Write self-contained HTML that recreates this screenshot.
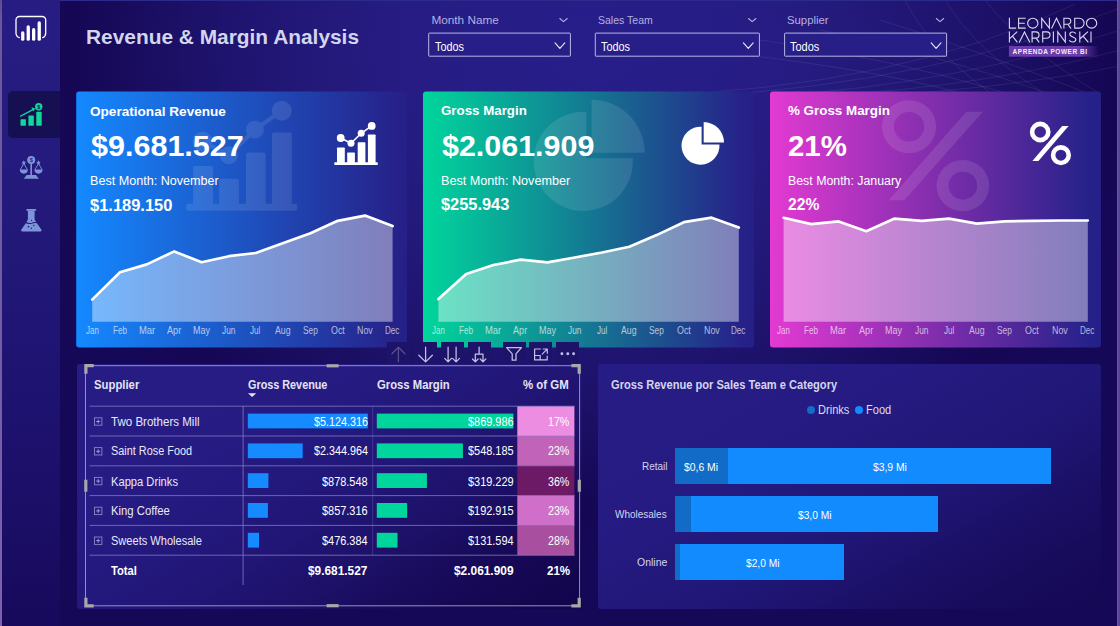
<!DOCTYPE html>
<html><head><meta charset="utf-8">
<style>
*{box-sizing:border-box;margin:0;padding:0}
html,body{width:1120px;height:626px;overflow:hidden}
body{font-family:"Liberation Sans",sans-serif;color:#fff;position:relative;background:#170a5a;}
.abs{position:absolute}
.t{position:absolute;white-space:nowrap;line-height:1;transform-origin:0 0}
#bg{left:0;top:0;width:1120px;height:626px;background:radial-gradient(ellipse 570px 500px at 590px 50px,#281e8a 0%,#261c84 30%,#241a7c 45%,#1f1470 61%,#1b0f64 75%,#150754 91%,#150856 100%)}
#edge{left:0;top:0;width:2px;height:626px;background:linear-gradient(180deg,#5c4a96 0,#6a5898 3%,#7a62b0 100%)}
#edger{left:1117px;top:0;width:3px;height:626px;background:linear-gradient(90deg,#6c5c9e,#553a92)}
#edget{left:0;top:0;width:1120px;height:1px;background:#2c2a8a}
#side{left:2px;top:0;width:58px;height:626px;background:linear-gradient(180deg,#261c82 0%,#261c80 14%,#251b7e 25%,#221878 40%,#1e1270 65%,#170a5c 100%)}
#active{left:8px;top:91px;width:52px;height:47px;background:#160f52;border-radius:5px 0 0 5px}
#title{left:86px;top:25px;font-size:21px;font-weight:bold;color:#d2d5ee;white-space:nowrap}
.ddl{top:13px;font-size:12px;color:#b4b0e2;white-space:nowrap}
.ddb{top:33px;height:24px;border:1px solid #b8b4e4;background:#271e8a;font-size:12px;color:#fff;padding:6px 0 0 5px;border-radius:1px}
.card{top:91px;width:331px;height:257px;border-radius:3px;overflow:hidden}
.ct{left:13px;top:12px;font-size:13px;font-weight:bold;white-space:nowrap}
.cv{left:13px;top:37px;font-size:29px;font-weight:bold;white-space:nowrap}
.cb{left:13px;top:82px;font-size:12.5px;white-space:nowrap}
.cs{left:13px;top:105px;font-size:15px;font-weight:bold;white-space:nowrap}
.mon{top:234px;font-size:9.5px;white-space:nowrap;width:30px;text-align:center;margin-left:-15px;color:rgba(255,255,255,0.62)}
.panel{border-radius:3px}
#tp{background:linear-gradient(149deg,#261c85 0%,#261c84 20%,#251b82 30%,#23187c 44%,#211575 56%,#1c1067 69%,#190c5d 76%,#160854 85%,#14064e 93%,#13054c 100%)}
#bp{background:linear-gradient(151deg,#261c85 0%,#261c84 20%,#251b83 30%,#23197d 44%,#211778 56%,#1d126c 69%,#1a0f64 76%,#170c5c 85%,#160a58 93%,#150956 100%)}
.th{top:378px;font-size:12px;font-weight:bold;color:#e4e4f6;white-space:nowrap}
.hl{height:1px;background:#6f68b4;left:89px;width:485px}
.rt{left:111px;font-size:12.5px;color:#e8e8f8;white-space:nowrap}
.rv{font-size:12.5px;color:#fff;white-space:nowrap;text-align:right;width:100px}
.pc{left:517px;width:57px;height:29px}
.bx{left:94px;width:8px;height:8px;border:1px solid #8f8ac8}
.bx:before{content:"";position:absolute;left:1px;top:2.5px;width:4px;height:1px;background:#a9a5d8}
.bx:after{content:"";position:absolute;left:2.5px;top:1px;width:1px;height:4px;background:#a9a5d8}
.tb{top:342px;width:23px;height:22px;background:#1d146a}
.bl{font-size:11.5px;color:#d4d4f0;white-space:nowrap;text-align:right;width:70px;left:597px}
.dl{font-size:11px;color:#fff;white-space:nowrap;width:60px;text-align:center;margin-left:-30px}
</style></head><body>
<div id="bg" class="abs"></div>
<svg class="abs" style="left:560px;top:0" width="560" height="100" viewBox="560 0 560 100" fill="none" stroke="#fff" stroke-opacity="0.075" stroke-width="1">
<path d="M640,96 Q900,88 1075,4"/><path d="M700,96 Q930,84 1120,8"/><path d="M770,96 Q960,84 1120,30"/><path d="M820,96 Q990,86 1120,50"/><path d="M870,96 Q1010,88 1120,66"/>
<path d="M700,50 Q860,66 965,94"/><path d="M760,40 Q890,58 1010,94"/><path d="M820,30 Q930,52 1050,94"/><path d="M880,20 Q970,48 1090,94"/><path d="M905,0 Q930,50 992,94"/><path d="M945,0 Q975,50 1045,94"/><path d="M985,0 Q1020,45 1100,94"/>
</svg>
<div id="edget" class="abs"></div>
<div id="edge" class="abs"></div>
<div id="edger" class="abs"></div>
<div id="side" class="abs"></div>
<div id="active" class="abs"></div>

<!-- SIDEBAR ICONS -->
<svg class="abs" style="left:0;top:0" width="60" height="250" viewBox="0 0 60 250">
 <!-- power bi -->
 <path d="M19.3,37.6 C17,36.9 16,35.4 16,33 V20 a3.5,3.5 0 0 1 3.5,-3.5 H42.2 a3.5,3.5 0 0 1 3.5,3.5 V33 C45.7,35.4 44.7,36.9 42.7,37.6" fill="none" stroke="#fff" stroke-width="1.3" stroke-linecap="round"/>
 <g stroke="#fff" stroke-width="3.3" stroke-linecap="round"><path d="M22.75,32.9 V39.2"/><path d="M28.25,27 V39.2"/><path d="M33.65,29.7 V39.2"/><path d="M39.25,23 V39.2"/></g>
 <!-- active: growth -->
 <g fill="#10d898"><rect x="20.5" y="119.2" width="5.4" height="6.6" rx="0.6"/><rect x="28.4" y="115.5" width="5.4" height="10.3" rx="0.6"/><rect x="36.3" y="111.7" width="5.4" height="14.1" rx="0.6"/>
 <circle cx="38.7" cy="106.7" r="3.7"/><path d="M35.4,108.5 L31.4,107.3 L33.3,111.4 Z"/></g>
 <path d="M20.6,116.1 L33.4,109.4" stroke="#10d898" stroke-width="1.2" stroke-linecap="round"/>
 <text x="38.7" y="108.6" font-family="Liberation Sans, sans-serif" font-size="5.4" font-weight="bold" fill="#160f52" text-anchor="middle">$</text>
 <!-- scales -->
 <g fill="#7d95d8"><circle cx="31.2" cy="160.1" r="4"/><rect x="30.4" y="164" width="1.6" height="11.5"/><path d="M26.7,175.1 H35.9 L38.9,178.8 H23.8 Z"/>
 <path d="M19.8,169.6 H27.8 A4,4.1 0 0 1 19.8,169.6 Z"/><path d="M34.5,169.6 H42.5 A4,4.1 0 0 1 34.5,169.6 Z"/>
 <path d="M23.8,160.3 L24.5,161.8 L26.1,162 L24.9,163.1 L25.2,164.7 L23.8,163.9 L22.4,164.7 L22.7,163.1 L21.5,162 L23.1,161.8 Z"/>
 <path d="M38.5,160.3 L39.2,161.8 L40.8,162 L39.6,163.1 L39.9,164.7 L38.5,163.9 L37.1,164.7 L37.4,163.1 L36.2,162 L37.8,161.8 Z"/></g>
 <g fill="none" stroke="#7d95d8" stroke-width="0.9"><path d="M20.2,169.8 L23.8,163.5 L27.4,169.8"/><path d="M34.9,169.8 L38.5,163.5 L42.1,169.8"/></g>
 <text x="31.2" y="162.1" font-family="Liberation Sans, sans-serif" font-size="5.6" font-weight="bold" fill="#2a1f8c" text-anchor="middle">$</text>
 <!-- flask -->
 <g fill="#7d95d8"><rect x="26.4" y="209" width="9.8" height="1.7" rx="0.5"/><path d="M27.9,210.6 H34.6 V219.6 L36.3,222.2 C34.5,221.6 33.2,222.4 31.3,222.9 C29.4,223.3 27.9,222.8 26.4,222.1 L27.9,219.6 Z"/>
 <path d="M25.8,223.2 C27.6,224 29.3,224.3 31.4,223.8 C33.4,223.3 35,222.6 36.9,223.3 L41.3,229.6 C41.9,230.6 41.4,231.6 40.2,231.6 H22.5 C21.3,231.6 20.8,230.6 21.4,229.6 Z"/></g>
 <g fill="#2a1f8c"><circle cx="31.5" cy="220.4" r="0.7"/><circle cx="33.9" cy="225.4" r="0.75"/><circle cx="28.5" cy="226.7" r="0.85"/><circle cx="31.4" cy="228.2" r="0.8"/></g>
</svg>

<div class="t" style="left:86.20px;top:25px;font-size:20.5px;line-height:23px;color:#d2d5ee;font-weight:bold;transform:scaleX(1.0183);">Revenue &amp; Margin Analysis</div>

<!-- SLICERS -->
<svg class="abs" style="left:420px;top:28px" width="540" height="34" viewBox="420 28 540 34" fill="#271e88" stroke="#bab6e6" stroke-width="1"><rect x="428.7" y="33.1" width="141.7" height="23.1" rx="0.6"/><rect x="595.3" y="33.1" width="164.1" height="23.1" rx="0.6"/><rect x="784.6" y="33.1" width="162" height="23.1" rx="0.6"/></svg>
<div class="t" style="left:431.40px;top:13px;font-size:11.8px;line-height:14px;color:#b4b0e2;">Month Name</div><div class="t" style="left:597.60px;top:13px;font-size:11.8px;line-height:14px;color:#b4b0e2;transform:scaleX(0.8918);">Sales Team</div><div class="t" style="left:786.50px;top:13px;font-size:11.8px;line-height:14px;color:#b4b0e2;transform:scaleX(0.9607);">Supplier</div>
<div class="t" style="left:435.00px;top:40px;font-size:11.9px;line-height:14px;color:#fff;transform:scaleX(0.9102);">Todos</div><div class="t" style="left:600.60px;top:40px;font-size:11.9px;line-height:14px;color:#fff;transform:scaleX(0.9134);">Todos</div><div class="t" style="left:790.00px;top:40px;font-size:11.9px;line-height:14px;color:#fff;transform:scaleX(0.9228);">Todos</div>
<svg class="abs" style="left:0;top:0" width="1120" height="64" fill="none" stroke-linecap="round" stroke-linejoin="round">
 <g stroke="#b4b0e2" stroke-width="1.1"><path d="M559.8,18.5 L563.5,21.7 L567.2,18.5"/><path d="M748.5,18.5 L752.2,21.7 L755.9,18.5"/><path d="M936.3,18.5 L940,21.7 L943.7,18.5"/></g>
 <g stroke="#e6e4f6" stroke-width="1.2"><path d="M555,42.9 L559.9,48.3 L564.8,42.9"/><path d="M743.4,42.9 L748.3,48.3 L753.2,42.9"/><path d="M931.2,42.9 L936.1,48.3 L941,42.9"/></g>
</svg>

<!-- LOGO -->
<svg class="abs" style="left:1004px;top:12px" width="100" height="50" viewBox="0 0 100 50">
 <defs><linearGradient id="bdg" x1="0" x2="1" y1="0" y2="0"><stop offset="0" stop-color="#6d3cab"/><stop offset="0.78" stop-color="#6d3cab"/><stop offset="1" stop-color="#6d3cab" stop-opacity="0"/></linearGradient></defs>
 <g fill="none" stroke="#dcdaf0" stroke-width="1.1" stroke-linecap="butt" stroke-linejoin="miter">
  <path d="M5.4,5.8 V16.1 H12.1"/><path d="M21.7,6.3 H14.6 V16.1 H21.7 M14.6,11.2 H20.8"/><ellipse cx="28.8" cy="11.2" rx="5.15" ry="4.9"/><path d="M37.7,16.6 V6.3 L45.4,16.1 V5.8"/>
  <path d="M47.5,16.6 L52.5,6.3 L57.5,16.6"/><path d="M59.9,16.6 V6.3 H63.8 a3,3 0 0 1 0,6 H59.9 M63.9,12.3 L67,16.6"/><path d="M70.7,6.3 V16.1 H75.2 a4.9,4.9 0 0 0 0,-9.8 Z"/><ellipse cx="87.6" cy="11.2" rx="5.15" ry="4.9"/>
  <path d="M5.4,19.4 V30.5 M13.2,19.6 L5.4,26.8 M8.5,24.1 L13.4,30.4"/><path d="M15.2,30.5 L20.5,19.9 L25.9,30.5"/><path d="M28.1,30.5 V19.9 H31.9 a3.1,3.1 0 0 1 0,6.2 H28.1 M32,26.1 L35.2,30.4"/>
  <path d="M38.7,30.5 V19.9 H42.8 a3.2,3.2 0 0 1 0,6.4 H38.7"/><path d="M49.4,19.4 V30.5"/><path d="M53.8,30.5 V19.9 L61.3,30 V19.4"/>
  <path d="M71.8,21.6 C70.4,19.5 65.9,19.3 65.8,22.3 C65.7,25.3 72,24.5 71.9,27.6 C71.8,30.7 66.6,30.6 65.2,28.3"/><path d="M75.8,19.4 V30.5 M84,19.6 L75.8,27 M79.1,24.2 L84.4,30.4"/><path d="M87,19.4 V30.5"/>
 </g>
 <rect x="4.9" y="34" width="90" height="10.7" fill="url(#bdg)"/>
 <text x="8.6" y="41.8" font-family="Liberation Sans, sans-serif" font-size="6.5" font-weight="bold" fill="#f0eefa" letter-spacing="0.52">APRENDA POWER BI</text>
</svg>


<!-- CARDS -->
<svg class="abs" style="left:0;top:80px" width="1120" height="280" viewBox="0 80 1120 280">
 <defs>
  <linearGradient id="g1" x1="0" x2="1" y1="0" y2="0"><stop offset="0" stop-color="#1489ff"/><stop offset="0.96" stop-color="#26228a"/><stop offset="1" stop-color="#252086"/></linearGradient>
  <linearGradient id="g2" x1="0" x2="1" y1="0" y2="0"><stop offset="0" stop-color="#00d69c"/><stop offset="0.96" stop-color="#26228a"/><stop offset="1" stop-color="#252086"/></linearGradient>
  <linearGradient id="g3" x1="0" x2="1" y1="0" y2="0"><stop offset="0" stop-color="#e33ad2"/><stop offset="0.96" stop-color="#26228a"/><stop offset="1" stop-color="#252086"/></linearGradient>
 </defs>
 <rect x="76.2" y="91.4" width="330.8" height="256.1" rx="3" fill="url(#g1)"/>
 <rect x="423" y="91.4" width="331" height="256.1" rx="3" fill="url(#g2)"/>
 <rect x="770" y="91.4" width="331" height="256.1" rx="3" fill="url(#g3)"/>
</svg>
<svg class="abs" style="left:0;top:80px" width="1120" height="280" viewBox="0 80 1120 280">
 <g transform="translate(186.2,100.8) scale(2.555)" fill="currentColor" style="color:#fff" opacity="0.1"><rect x="0" y="40.3" width="43.5" height="2.7" rx="0.8"/>
   <rect x="2.7" y="25.5" width="7.8" height="15.5" rx="0.8"/><rect x="12.9" y="30.5" width="7.7" height="10.5" rx="0.8"/><rect x="23.4" y="20.2" width="7.7" height="20.8" rx="0.8"/><rect x="33.6" y="12.4" width="7.7" height="28.6" rx="0.8"/>
   <circle cx="6.4" cy="16" r="3.9"/><circle cx="16.7" cy="21.3" r="3.5"/><circle cx="26.9" cy="11.3" r="3.5"/><circle cx="37.4" cy="3.9" r="3.9"/>
   <path d="M6.4,16 L16.7,21.3 L26.9,11.3 L37.4,3.9" fill="none" stroke="currentColor" stroke-width="1.6"/></g>
 <g transform="translate(334.3,122)" fill="currentColor" style="color:#fff"><rect x="0" y="40.3" width="43.5" height="2.7" rx="0.8"/>
   <rect x="2.7" y="25.5" width="7.8" height="15.5" rx="0.8"/><rect x="12.9" y="30.5" width="7.7" height="10.5" rx="0.8"/><rect x="23.4" y="20.2" width="7.7" height="20.8" rx="0.8"/><rect x="33.6" y="12.4" width="7.7" height="28.6" rx="0.8"/>
   <circle cx="6.4" cy="16" r="3.9"/><circle cx="16.7" cy="21.3" r="3.5"/><circle cx="26.9" cy="11.3" r="3.5"/><circle cx="37.4" cy="3.9" r="3.9"/>
   <path d="M6.4,16 L16.7,21.3 L26.9,11.3 L37.4,3.9" fill="none" stroke="currentColor" stroke-width="1.6"/></g>
 <g transform="translate(533.7,100.8) scale(2.61)" fill="#fff" opacity="0.1"><path d="M20.1,22 L20.1,4.23 A19,19 0 1,0 37.96,22 Z"/>
   <path d="M22.2,19.9 L22.2,-0.4 A20.3,20.3 0 0,1 42.5,19.9 Z"/></g>
 <g transform="translate(681.5,122.5)" fill="#fff"><path d="M20.1,22 L20.1,4.23 A19,19 0 1,0 37.96,22 Z"/>
   <path d="M22.2,19.9 L22.2,-0.4 A20.3,20.3 0 0,1 42.5,19.9 Z"/></g>
 <g transform="translate(882,101.1) scale(2.6,2.54)" fill="currentColor" style="color:#fff" opacity="0.1"><circle cx="10.4" cy="10.1" r="8.1" fill="none" stroke="currentColor" stroke-width="4.6"/>
   <circle cx="31.1" cy="33.3" r="7.8" fill="none" stroke="currentColor" stroke-width="4.6"/>
   <path d="M32.4,4.2 L38.8,4.2 L8.6,39 L2.6,39 Z"/></g>
 <g transform="translate(1029.8,121.9)" fill="currentColor" style="color:#fff"><circle cx="10.4" cy="10.1" r="8.1" fill="none" stroke="currentColor" stroke-width="4.6"/>
   <circle cx="31.1" cy="33.3" r="7.8" fill="none" stroke="currentColor" stroke-width="4.6"/>
   <path d="M32.4,4.2 L38.8,4.2 L8.6,39 L2.6,39 Z"/></g>
 <polygon points="92.2,299.6 120.0,272.3 146.8,264.4 174.2,251.4 201.6,262.3 228.9,256.2 255.8,253.0 283.4,243.0 310.5,233.2 337.7,220.8 365.0,215.6 392.6,226.0 392.6,321.7 92.2,321.7" fill="rgba(255,255,255,0.42)"/><polyline points="92.2,299.6 120.0,272.3 146.8,264.4 174.2,251.4 201.6,262.3 228.9,256.2 255.8,253.0 283.4,243.0 310.5,233.2 337.7,220.8 365.0,215.6 392.6,226.0" fill="none" stroke="#fff" stroke-width="2.7" stroke-linejoin="round" stroke-linecap="round"/>
 <polygon points="438.4,299.0 466.2,274.0 493.4,265.0 520.7,259.7 547.5,262.4 574.8,257.5 602.0,252.5 629.3,246.7 656.6,235.1 683.9,222.2 711.6,217.7 738.8,227.5 738.8,321.7 438.4,321.7" fill="rgba(255,255,255,0.42)"/><polyline points="438.4,299.0 466.2,274.0 493.4,265.0 520.7,259.7 547.5,262.4 574.8,257.5 602.0,252.5 629.3,246.7 656.6,235.1 683.9,222.2 711.6,217.7 738.8,227.5" fill="none" stroke="#fff" stroke-width="2.7" stroke-linejoin="round" stroke-linecap="round"/>
 <polygon points="783.6,217.8 811.3,224.1 838.6,221.4 866.3,231.2 894.1,218.7 921.8,220.9 949.1,218.7 976.8,223.6 1004.6,221.4 1032.3,220.9 1060.0,220.5 1087.8,220.5 1087.8,321.7 783.6,321.7" fill="rgba(255,255,255,0.42)"/><polyline points="783.6,217.8 811.3,224.1 838.6,221.4 866.3,231.2 894.1,218.7 921.8,220.9 949.1,218.7 976.8,223.6 1004.6,221.4 1032.3,220.9 1060.0,220.5 1087.8,220.5" fill="none" stroke="#fff" stroke-width="2.7" stroke-linejoin="round" stroke-linecap="round"/>

</svg>
<div class="t" style="left:85.60px;top:325px;font-size:10px;line-height:11px;color:rgba(255,255,255,0.68);transform:scaleX(0.7950);">Jan</div><div class="t" style="left:112.80px;top:325px;font-size:10px;line-height:11px;color:rgba(255,255,255,0.68);transform:scaleX(0.8116);">Feb</div><div class="t" style="left:138.50px;top:325px;font-size:10px;line-height:11px;color:rgba(255,255,255,0.68);transform:scaleX(0.9419);">Mar</div><div class="t" style="left:166.90px;top:325px;font-size:10px;line-height:11px;color:rgba(255,255,255,0.68);transform:scaleX(0.9132);">Apr</div><div class="t" style="left:192.90px;top:325px;font-size:10px;line-height:11px;color:rgba(255,255,255,0.68);transform:scaleX(0.8995);">May</div><div class="t" style="left:222.00px;top:325px;font-size:10px;line-height:11px;color:rgba(255,255,255,0.68);transform:scaleX(0.8323);">Jun</div><div class="t" style="left:250.40px;top:325px;font-size:10px;line-height:11px;color:rgba(255,255,255,0.68);transform:scaleX(0.8125);">Jul</div><div class="t" style="left:275.40px;top:325px;font-size:10px;line-height:11px;color:rgba(255,255,255,0.68);transform:scaleX(0.8764);">Aug</div><div class="t" style="left:302.90px;top:325px;font-size:10px;line-height:11px;color:rgba(255,255,255,0.68);transform:scaleX(0.8315);">Sep</div><div class="t" style="left:330.60px;top:325px;font-size:10px;line-height:11px;color:rgba(255,255,255,0.68);transform:scaleX(0.8875);">Oct</div><div class="t" style="left:356.90px;top:325px;font-size:10px;line-height:11px;color:rgba(255,255,255,0.68);transform:scaleX(0.8876);">Nov</div><div class="t" style="left:385.20px;top:325px;font-size:10px;line-height:11px;color:rgba(255,255,255,0.68);transform:scaleX(0.8090);">Dec</div>
<div class="t" style="left:431.80px;top:325px;font-size:10px;line-height:11px;color:rgba(255,255,255,0.68);transform:scaleX(0.7950);">Jan</div><div class="t" style="left:459.00px;top:325px;font-size:10px;line-height:11px;color:rgba(255,255,255,0.68);transform:scaleX(0.8116);">Feb</div><div class="t" style="left:485.10px;top:325px;font-size:10px;line-height:11px;color:rgba(255,255,255,0.68);transform:scaleX(0.9419);">Mar</div><div class="t" style="left:513.40px;top:325px;font-size:10px;line-height:11px;color:rgba(255,255,255,0.68);transform:scaleX(0.9132);">Apr</div><div class="t" style="left:538.80px;top:325px;font-size:10px;line-height:11px;color:rgba(255,255,255,0.68);transform:scaleX(0.8995);">May</div><div class="t" style="left:567.90px;top:325px;font-size:10px;line-height:11px;color:rgba(255,255,255,0.68);transform:scaleX(0.8323);">Jun</div><div class="t" style="left:596.60px;top:325px;font-size:10px;line-height:11px;color:rgba(255,255,255,0.68);transform:scaleX(0.8125);">Jul</div><div class="t" style="left:621.30px;top:325px;font-size:10px;line-height:11px;color:rgba(255,255,255,0.68);transform:scaleX(0.8764);">Aug</div><div class="t" style="left:649.00px;top:325px;font-size:10px;line-height:11px;color:rgba(255,255,255,0.68);transform:scaleX(0.8315);">Sep</div><div class="t" style="left:676.80px;top:325px;font-size:10px;line-height:11px;color:rgba(255,255,255,0.68);transform:scaleX(0.8875);">Oct</div><div class="t" style="left:703.50px;top:325px;font-size:10px;line-height:11px;color:rgba(255,255,255,0.68);transform:scaleX(0.8876);">Nov</div><div class="t" style="left:731.40px;top:325px;font-size:10px;line-height:11px;color:rgba(255,255,255,0.68);transform:scaleX(0.8090);">Dec</div>
<div class="t" style="left:777.00px;top:325px;font-size:10px;line-height:11px;color:rgba(255,255,255,0.68);transform:scaleX(0.7950);">Jan</div><div class="t" style="left:804.10px;top:325px;font-size:10px;line-height:11px;color:rgba(255,255,255,0.68);transform:scaleX(0.8116);">Feb</div><div class="t" style="left:830.30px;top:325px;font-size:10px;line-height:11px;color:rgba(255,255,255,0.68);transform:scaleX(0.9419);">Mar</div><div class="t" style="left:859.00px;top:325px;font-size:10px;line-height:11px;color:rgba(255,255,255,0.68);transform:scaleX(0.9132);">Apr</div><div class="t" style="left:885.40px;top:325px;font-size:10px;line-height:11px;color:rgba(255,255,255,0.68);transform:scaleX(0.8995);">May</div><div class="t" style="left:914.90px;top:325px;font-size:10px;line-height:11px;color:rgba(255,255,255,0.68);transform:scaleX(0.8323);">Jun</div><div class="t" style="left:943.70px;top:325px;font-size:10px;line-height:11px;color:rgba(255,255,255,0.68);transform:scaleX(0.8125);">Jul</div><div class="t" style="left:968.80px;top:325px;font-size:10px;line-height:11px;color:rgba(255,255,255,0.68);transform:scaleX(0.8764);">Aug</div><div class="t" style="left:997.00px;top:325px;font-size:10px;line-height:11px;color:rgba(255,255,255,0.68);transform:scaleX(0.8315);">Sep</div><div class="t" style="left:1025.20px;top:325px;font-size:10px;line-height:11px;color:rgba(255,255,255,0.68);transform:scaleX(0.8875);">Oct</div><div class="t" style="left:1051.90px;top:325px;font-size:10px;line-height:11px;color:rgba(255,255,255,0.68);transform:scaleX(0.8876);">Nov</div><div class="t" style="left:1080.40px;top:325px;font-size:10px;line-height:11px;color:rgba(255,255,255,0.68);transform:scaleX(0.8090);">Dec</div>

<div class="t" style="left:90.40px;top:104px;font-size:12.9px;line-height:15px;color:#fff;font-weight:bold;transform:scaleX(1.0539);">Operational Revenue</div><div class="t" style="left:91.00px;top:129px;font-size:29.3px;line-height:33px;color:#fff;font-weight:bold;transform:scaleX(1.0419);">$9.681.527</div><div class="t" style="left:90.40px;top:174px;font-size:12.5px;line-height:14px;color:#fff;transform:scaleX(1.0074);">Best Month: November</div><div class="t" style="left:90.40px;top:196px;font-size:16.2px;line-height:18px;color:#fff;font-weight:bold;transform:scaleX(1.0173);">$1.189.150</div>
<div class="t" style="left:441.00px;top:103px;font-size:12.9px;line-height:15px;color:#fff;font-weight:bold;transform:scaleX(1.0331);">Gross Margin</div><div class="t" style="left:442.00px;top:129px;font-size:29.3px;line-height:33px;color:#fff;font-weight:bold;transform:scaleX(1.0392);">$2.061.909</div><div class="t" style="left:441.00px;top:174px;font-size:12.5px;line-height:14px;color:#fff;transform:scaleX(1.0106);">Best Month: November</div><div class="t" style="left:441.00px;top:195px;font-size:16.2px;line-height:18px;color:#fff;font-weight:bold;transform:scaleX(1.0111);">$255.943</div>
<div class="t" style="left:788.00px;top:103px;font-size:12.9px;line-height:15px;color:#fff;font-weight:bold;transform:scaleX(1.0377);">% Gross Margin</div><div class="t" style="left:788.00px;top:129px;font-size:29.3px;line-height:33px;color:#fff;font-weight:bold;transform:scaleX(1.0043);">21%</div><div class="t" style="left:787.60px;top:174px;font-size:12.5px;line-height:14px;color:#fff;transform:scaleX(0.9874);">Best Month: January</div><div class="t" style="left:787.60px;top:195px;font-size:16.2px;line-height:18px;color:#fff;font-weight:bold;transform:scaleX(0.9660);">22%</div>

<!-- TABLE PANEL -->
<div id="tp" class="abs panel" style="left:77px;top:364px;width:505px;height:245px"></div>
<!-- toolbar -->
<div class="abs tb" style="left:387px"></div><div class="abs tb" style="left:414px"></div><div class="abs tb" style="left:441px"></div><div class="abs tb" style="left:468px"></div><div class="abs tb" style="left:503px"></div><div class="abs tb" style="left:529px"></div><div class="abs tb" style="left:556px"></div>
<svg class="abs" style="left:380px;top:340px" width="210" height="28" viewBox="380 340 210 28" fill="none" stroke="#c4c1e4" stroke-width="1.25" stroke-linecap="round" stroke-linejoin="round">
 <g stroke="#55508f"><path d="M398.4,361.8 V347.3 M391.9,353.8 L398.4,347.2 L404.9,353.8"/></g>
 <path d="M425.6,347.2 V361.7 M418.8,355.2 L425.6,361.9 L432.4,355.2"/>
 <path d="M448.1,347.2 V361.7 M444.7,358.4 L448.1,361.9 L451.5,358.4 M456.1,347.2 V361.7 M452.7,358.4 L456.1,361.9 L459.5,358.4"/>
 <path d="M479.1,347.2 V354 M475.3,361.7 V354 H483 V361.7 M472.5,359 L475.3,361.9 L478.1,359 M480.2,359 L483,361.9 L485.8,359"/>
 <path d="M506.6,347.6 H521.4 L516,353.8 V360.2 H512.2 V353.8 Z"/>
 <path d="M540.4,349 H534.6 V359.9 H547.2 V356.2 M543.2,349 H547.3 V353.3 M547.1,349.2 L542.2,354.1 M534.6,355.5 H540.2 V359.9" stroke-width="1.2"/>
 <g fill="#c4c1e4" stroke="none"><circle cx="561.9" cy="353.7" r="1.45"/><circle cx="567.8" cy="353.7" r="1.45"/><circle cx="573.6" cy="353.7" r="1.45"/></g>
</svg>
<!-- selection frame -->
<svg class="abs" style="left:80px;top:360px" width="505" height="252" viewBox="80 360 505 252" fill="none">
 <rect x="85.5" y="365.7" width="494.1" height="240.1" stroke="#9490c6" stroke-width="1"/>
 <g stroke="#a8a8aa" stroke-width="3.2">
 <path d="M85.9,373.8 V365.7 H93.7"/><path d="M571.4,365.7 H579.2 V373.8"/><path d="M85.9,597.7 V605.8 H93.7"/><path d="M571.4,605.8 H579.2 V597.7"/>
 <path d="M326.6,365.8 H338.6"/><path d="M326.6,605.7 H338.6"/><path d="M85.8,479.7 V491.7"/><path d="M579.3,479.7 V491.7"/></g>
</svg>

<div class="t" style="left:94.10px;top:378px;font-size:12.0px;line-height:14px;color:#e4e4f6;font-weight:bold;transform:scaleX(0.9438);">Supplier</div><div class="t" style="left:248.00px;top:378px;font-size:12.0px;line-height:14px;color:#e4e4f6;font-weight:bold;transform:scaleX(0.9018);">Gross Revenue</div><div class="t" style="left:376.80px;top:378px;font-size:12.0px;line-height:14px;color:#e4e4f6;font-weight:bold;transform:scaleX(0.9399);">Gross Margin</div><div class="t" style="left:523.20px;top:378px;font-size:12.0px;line-height:14px;color:#e4e4f6;font-weight:bold;transform:scaleX(0.9521);">% of GM</div>
<svg class="abs" style="left:248px;top:393px" width="9" height="5"><path d="M0,0.2 H8.2 L4.1,3.9 Z" fill="#e4e4f6"/></svg>
<svg class="abs" style="left:80px;top:400px" width="505" height="200" viewBox="80 400 505 200"><rect x="517.3" y="406.2" width="57.1" height="29.8" fill="#ed8de2"/><rect x="247.8" y="413.6" width="120" height="14.8" fill="#158bff"/><rect x="376.8" y="413.6" width="136.6" height="14.8" fill="#00d69c"/><rect x="94.5" y="417.8" width="7.4" height="7.4" fill="none" stroke="#8a86c6" stroke-width="0.9"/><path d="M96.2,421.5 H100.2 M98.2,419.5 V423.5" stroke="#a9a5d8" stroke-width="0.9"/><rect x="517.3" y="436.0" width="57.1" height="29.8" fill="#c263ba"/><rect x="247.8" y="443.4" width="54.9" height="14.8" fill="#158bff"/><rect x="376.8" y="443.4" width="86.1" height="14.8" fill="#00d69c"/><rect x="94.5" y="447.6" width="7.4" height="7.4" fill="none" stroke="#8a86c6" stroke-width="0.9"/><path d="M96.2,451.3 H100.2 M98.2,449.3 V453.3" stroke="#a9a5d8" stroke-width="0.9"/><rect x="517.3" y="465.8" width="57.1" height="29.8" fill="#6c1a66"/><rect x="247.8" y="473.2" width="20.6" height="14.8" fill="#158bff"/><rect x="376.8" y="473.2" width="50.1" height="14.8" fill="#00d69c"/><rect x="94.5" y="477.4" width="7.4" height="7.4" fill="none" stroke="#8a86c6" stroke-width="0.9"/><path d="M96.2,481.1 H100.2 M98.2,479.1 V483.1" stroke="#a9a5d8" stroke-width="0.9"/><rect x="517.3" y="495.6" width="57.1" height="29.8" fill="#cf6fc9"/><rect x="247.8" y="503.0" width="20.1" height="14.8" fill="#158bff"/><rect x="376.8" y="503.0" width="30.3" height="14.8" fill="#00d69c"/><rect x="94.5" y="507.2" width="7.4" height="7.4" fill="none" stroke="#8a86c6" stroke-width="0.9"/><path d="M96.2,510.9 H100.2 M98.2,508.9 V512.9" stroke="#a9a5d8" stroke-width="0.9"/><rect x="517.3" y="525.4" width="57.1" height="29.8" fill="#a84fa0"/><rect x="247.8" y="532.8" width="11.2" height="14.8" fill="#158bff"/><rect x="376.8" y="532.8" width="20.7" height="14.8" fill="#00d69c"/><rect x="94.5" y="537.0" width="7.4" height="7.4" fill="none" stroke="#8a86c6" stroke-width="0.9"/><path d="M96.2,540.7 H100.2 M98.2,538.7 V542.7" stroke="#a9a5d8" stroke-width="0.9"/><rect x="89.5" y="405.7" width="485" height="1" fill="#8680c4" fill-opacity="0.75"/><rect x="89.5" y="435.5" width="485" height="1" fill="#8680c4" fill-opacity="0.75"/><rect x="89.5" y="465.3" width="485" height="1" fill="#8680c4" fill-opacity="0.75"/><rect x="89.5" y="495.1" width="485" height="1" fill="#8680c4" fill-opacity="0.75"/><rect x="89.5" y="524.9" width="485" height="1" fill="#8680c4" fill-opacity="0.75"/><rect x="89.5" y="554.7" width="485" height="1" fill="#8680c4" fill-opacity="0.75"/><rect x="242.6" y="406" width="1" height="179" fill="#8680c4" fill-opacity="0.75"/><rect x="372.2" y="406" width="1" height="149" fill="#8680c4" fill-opacity="0.3"/></svg>
<div class="t" style="left:111.00px;top:415px;font-size:12px;line-height:14px;color:#e8e8f8;transform:scaleX(0.9625);">Two Brothers Mill</div><div class="t" style="left:313.50px;top:415px;font-size:12px;line-height:14px;color:#fff;transform:scaleX(0.8993);">$5.124.316</div><div class="t" style="left:467.90px;top:415px;font-size:12px;line-height:14px;color:#fff;transform:scaleX(0.9111);">$869.986</div><div class="t" style="left:548.40px;top:415px;font-size:12px;line-height:14px;color:#fff;transform:scaleX(0.8875);">17%</div><div class="t" style="left:111.00px;top:444px;font-size:12px;line-height:14px;color:#e8e8f8;transform:scaleX(0.9072);">Saint Rose Food</div><div class="t" style="left:313.50px;top:444px;font-size:12px;line-height:14px;color:#fff;transform:scaleX(0.8993);">$2.344.964</div><div class="t" style="left:467.90px;top:444px;font-size:12px;line-height:14px;color:#fff;transform:scaleX(0.9111);">$548.185</div><div class="t" style="left:548.40px;top:444px;font-size:12px;line-height:14px;color:#fff;transform:scaleX(0.8875);">23%</div><div class="t" style="left:111.00px;top:475px;font-size:12px;line-height:14px;color:#e8e8f8;transform:scaleX(0.9299);">Kappa Drinks</div><div class="t" style="left:321.90px;top:475px;font-size:12px;line-height:14px;color:#fff;transform:scaleX(0.9111);">$878.548</div><div class="t" style="left:467.90px;top:475px;font-size:12px;line-height:14px;color:#fff;transform:scaleX(0.9111);">$319.229</div><div class="t" style="left:548.40px;top:475px;font-size:12px;line-height:14px;color:#fff;transform:scaleX(0.8875);">36%</div><div class="t" style="left:111.00px;top:504px;font-size:12px;line-height:14px;color:#e8e8f8;transform:scaleX(0.9424);">King Coffee</div><div class="t" style="left:321.90px;top:504px;font-size:12px;line-height:14px;color:#fff;transform:scaleX(0.9111);">$857.316</div><div class="t" style="left:467.90px;top:504px;font-size:12px;line-height:14px;color:#fff;transform:scaleX(0.9111);">$192.915</div><div class="t" style="left:548.40px;top:504px;font-size:12px;line-height:14px;color:#fff;transform:scaleX(0.8875);">23%</div><div class="t" style="left:111.00px;top:534px;font-size:12px;line-height:14px;color:#e8e8f8;transform:scaleX(0.9210);">Sweets Wholesale</div><div class="t" style="left:321.90px;top:534px;font-size:12px;line-height:14px;color:#fff;transform:scaleX(0.9111);">$476.384</div><div class="t" style="left:467.90px;top:534px;font-size:12px;line-height:14px;color:#fff;transform:scaleX(0.9111);">$131.594</div><div class="t" style="left:548.40px;top:534px;font-size:12px;line-height:14px;color:#fff;transform:scaleX(0.8875);">28%</div><div class="t" style="left:111.30px;top:564px;font-size:12px;line-height:14px;color:#fff;font-weight:bold;transform:scaleX(0.9317);">Total</div><div class="t" style="left:308.30px;top:564px;font-size:12px;line-height:14px;color:#fff;font-weight:bold;transform:scaleX(0.9875);">$9.681.527</div><div class="t" style="left:454.00px;top:564px;font-size:12px;line-height:14px;color:#fff;font-weight:bold;transform:scaleX(0.9908);">$2.061.909</div><div class="t" style="left:546.60px;top:564px;font-size:12px;line-height:14px;color:#fff;font-weight:bold;transform:scaleX(0.9625);">21%</div>
<!-- BAR PANEL -->
<div id="bp" class="abs panel" style="left:598px;top:364px;width:503px;height:245px"></div>
<div class="t" style="left:610.70px;top:378px;font-size:11.9px;line-height:14px;color:#d4d4ee;font-weight:bold;transform:scaleX(0.9332);">Gross Revenue por Sales Team e Category</div>
<div class="abs" style="left:807px;top:405.6px;width:8.2px;height:8.2px;border-radius:4.1px;background:#136cc6"></div>
<div class="t" style="left:818.30px;top:403px;font-size:12.0px;line-height:14px;color:#dcdcf2;transform:scaleX(0.9235);">Drinks</div>
<div class="abs" style="left:855.3px;top:405.6px;width:8.2px;height:8.2px;border-radius:4.1px;background:#128bff"></div>
<div class="t" style="left:866.00px;top:403px;font-size:12.0px;line-height:14px;color:#dcdcf2;transform:scaleX(0.9214);">Food</div>

<div class="abs" style="left:675px;top:447.5px;width:376px;height:36px;background:#128bff"></div><div class="abs" style="left:675px;top:447.5px;width:53px;height:36px;background:#126bc6"></div>
<div class="abs" style="left:675px;top:495.5px;width:262.5px;height:36px;background:#128bff"></div><div class="abs" style="left:675px;top:495.5px;width:16px;height:36px;background:#126bc6"></div>
<div class="abs" style="left:675px;top:543.5px;width:169px;height:36px;background:#128bff"></div><div class="abs" style="left:675px;top:543.5px;width:5px;height:36px;background:#126bc6"></div>
<div class="t" style="left:641.50px;top:460px;font-size:11.4px;line-height:12px;color:#d4d4f0;transform:scaleX(0.8748);">Retail</div><div class="t" style="left:615.30px;top:508px;font-size:11.4px;line-height:12px;color:#d4d4f0;transform:scaleX(0.8770);">Wholesales</div><div class="t" style="left:636.70px;top:556px;font-size:11.4px;line-height:12px;color:#d4d4f0;transform:scaleX(0.9196);">Online</div>
<div class="t" style="left:684.40px;top:461px;font-size:11.3px;line-height:12px;color:#fff;transform:scaleX(0.9177);">$0,6 Mi</div><div class="t" style="left:872.60px;top:461px;font-size:11.3px;line-height:12px;color:#fff;transform:scaleX(0.9123);">$3,9 Mi</div><div class="t" style="left:797.70px;top:509px;font-size:11.3px;line-height:12px;color:#fff;transform:scaleX(0.9042);">$3,0 Mi</div><div class="t" style="left:745.50px;top:557px;font-size:11.3px;line-height:12px;color:#fff;transform:scaleX(0.9015);">$2,0 Mi</div>
</body></html>
